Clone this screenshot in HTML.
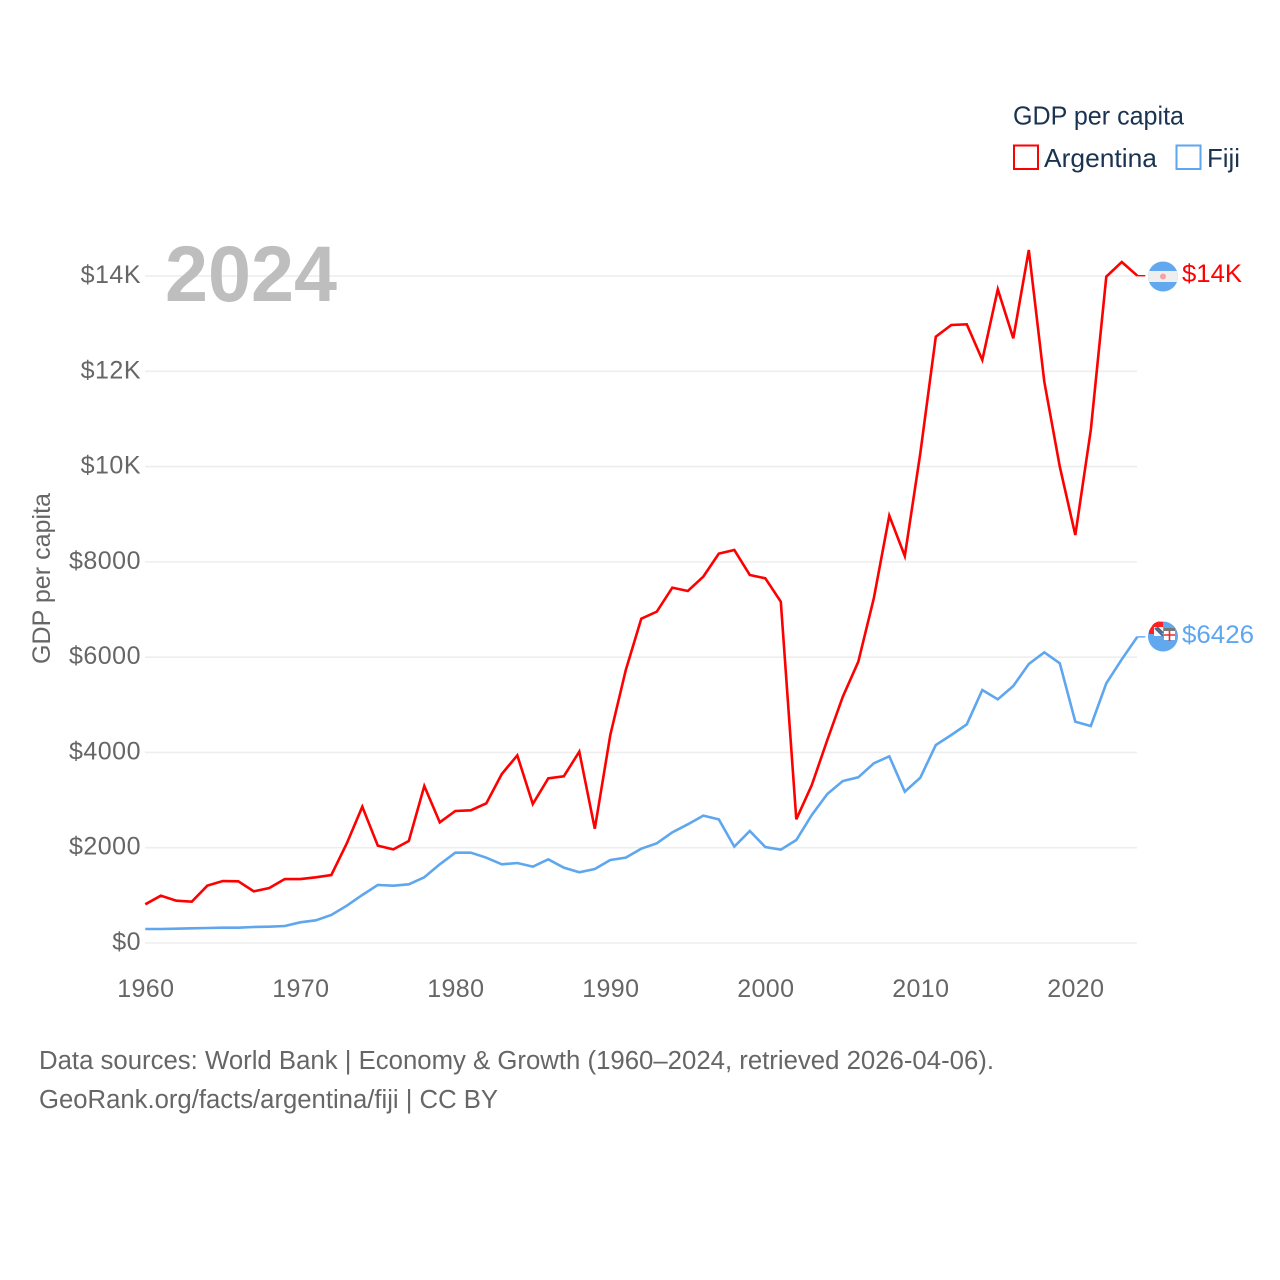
<!DOCTYPE html>
<html lang="en">
<head>
<meta charset="utf-8">
<title>GDP per capita: Argentina and Fiji</title>
<style>
html,body{margin:0;padding:0;background:#fff;width:1280px;height:1280px;overflow:hidden}
svg{display:block}
text{font-family:"Liberation Sans",Arial,sans-serif}
</style>
</head>
<body>
<svg id="chart" xmlns="http://www.w3.org/2000/svg" width="1280" height="1280" viewBox="0 0 1280 1280">
  <rect x="0" y="0" width="1280" height="1280" fill="#ffffff"/>
  <g id="grid"></g>
  <g id="yticks"></g>
  <g id="xticks"></g>
  <text x="165" y="301" font-size="79" font-weight="700" fill="#bebebe" textLength="172" lengthAdjust="spacingAndGlyphs">2024</text>
  <text transform="translate(50,664) rotate(-90)" font-size="25" fill="#666666" textLength="171" lengthAdjust="spacingAndGlyphs">GDP per capita</text>
  <g id="series"></g>

  <g>
    <clipPath id="clipAr"><circle cx="1163" cy="276.5" r="15"/></clipPath>
    <g clip-path="url(#clipAr)">
      <rect x="1148" y="261" width="30" height="31" fill="#62a8ee"/>
      <rect x="1148" y="271" width="30" height="11" fill="#eeeeee"/>
      <circle cx="1163" cy="276.5" r="3" fill="#f9a0a0"/>
    </g>
  </g>

  <g>
    <clipPath id="clipFj"><circle cx="1163" cy="636.5" r="15"/></clipPath>
    <circle cx="1160" cy="631" r="9.5" fill="#ff0000"/>
    <circle cx="1163" cy="636.5" r="15" fill="#62a8ee"/>
    <g clip-path="url(#clipFj)">
      <rect x="1149" y="622" width="14" height="12" fill="#ff2020"/>
      <rect x="1154" y="627" width="9" height="9" fill="#f4f6fa"/>
      <path d="M1155 628 L1163 636 M1157 627 L1163 633" stroke="#4a6a8a" stroke-width="2" fill="none"/>
      <rect x="1164" y="628" width="11" height="12" fill="#ffffff"/>
      <rect x="1164" y="628" width="11" height="3" fill="#777777"/>
      <path d="M1169.5 631 V641 M1164 635 H1175" stroke="#e03030" stroke-width="1.6" fill="none"/>
    </g>
  </g>

  <text id="labelA" x="1182" y="282" font-size="25" fill="#ff0000" textLength="60" lengthAdjust="spacingAndGlyphs"></text>
  <text id="labelF" x="1182" y="643" font-size="25" fill="#5ea6ee" textLength="72" lengthAdjust="spacingAndGlyphs"></text>

  <g>
    <text x="1013" y="124.5" font-size="26" fill="#1a3350" textLength="171" lengthAdjust="spacingAndGlyphs">GDP per capita</text>
    <rect x="1014" y="145.5" width="24" height="23.5" fill="none" stroke="#ff0000" stroke-width="2"/>
    <text x="1044" y="167" font-size="26" fill="#1a3350" textLength="113" lengthAdjust="spacingAndGlyphs">Argentina</text>
    <rect x="1176.5" y="145.5" width="24" height="23.5" fill="none" stroke="#5ea6ee" stroke-width="2"/>
    <text x="1207" y="167" font-size="26" fill="#1a3350" textLength="33" lengthAdjust="spacingAndGlyphs">Fiji</text>
  </g>

  <text x="39" y="1069" font-size="25.5" fill="#666666" textLength="955" lengthAdjust="spacingAndGlyphs">Data sources: World Bank | Economy &amp; Growth (1960–2024, retrieved 2026-04-06).</text>
  <text x="39" y="1108" font-size="25.5" fill="#666666" textLength="459" lengthAdjust="spacingAndGlyphs">GeoRank.org/facts/argentina/fiji | CC BY</text>
</svg>
<script>
const startYear = 1960;
const xTickYears = [1960, 1970, 1980, 1990, 2000, 2010, 2020];
const yTickValues = [0, 2000, 4000, 6000, 8000, 10000, 12000, 14000];
const yTickLabels = ['$0', '$2000', '$4000', '$6000', '$8000', '$10K', '$12K', '$14K'];
const argentinaValues = [812, 993, 888, 867, 1203, 1301, 1295, 1085, 1154, 1343,
  1343, 1379, 1427, 2092, 2861, 2043, 1966, 2141, 3295, 2533,
  2771, 2785, 2932, 3547, 3939, 2917, 3457, 3499, 4016, 2399,
  4366, 5731, 6808, 6955, 7459, 7389, 7690, 8173, 8250, 7725,
  7655, 7165, 2596, 3316, 4261, 5170, 5905, 7235, 8970, 8123,
  10279, 12727, 12972, 12986, 12238, 13721, 12693, 14546, 11782, 9998,
  8564, 10768, 13987, 14295, 14007];
const fijiValues = [294, 294, 300, 308, 315, 322, 322, 336, 343, 357,
  434, 476, 588, 783, 1008, 1218, 1203, 1232, 1379, 1652,
  1896, 1896, 1791, 1652, 1679, 1602, 1757, 1581, 1484, 1553,
  1742, 1791, 1980, 2092, 2323, 2491, 2673, 2596, 2022, 2351,
  2015, 1959, 2162, 2687, 3128, 3400, 3478, 3772, 3919, 3176,
  3470, 4156, 4366, 4590, 5311, 5115, 5395, 5856, 6102, 5871,
  4645, 4555, 5451, 5955, 6426];
const argentinaLabel = '$14K';
const fijiLabel = '$6426';

const NS = 'http://www.w3.org/2000/svg';
const xScale = function (year) { return 145.3 + (year - 1960) * 15.5; };
const yScale = function (value) { return 943 - value * 0.04764; };

const grid = document.getElementById('grid');
const yticks = document.getElementById('yticks');
const xticks = document.getElementById('xticks');
const series = document.getElementById('series');

yTickValues.forEach(function (value, i) {
  const line = document.createElementNS(NS, 'line');
  
  
  line.setAttribute('x1', 145);
  line.setAttribute('x2', 1137);
  line.setAttribute('y1', yScale(value));
  line.setAttribute('y2', yScale(value));
  line.setAttribute('stroke', '#eeeeee');
  line.setAttribute('stroke-width', 1.6);
  grid.appendChild(line);

  const label = document.createElementNS(NS, 'text');
  
  
  label.setAttribute('x', 141);
  label.setAttribute('y', yScale(value) + 7);
  label.setAttribute('text-anchor', 'end');
  label.setAttribute('font-size', 25);
  label.setAttribute('letter-spacing', 0.5);
  label.setAttribute('fill', '#666666');
  label.textContent = yTickLabels[i];
  yticks.appendChild(label);
});

xTickYears.forEach(function (year) {
  const label = document.createElementNS(NS, 'text');
  
  
  label.setAttribute('x', xScale(year) + 0.5);
  label.setAttribute('y', 997);
  label.setAttribute('text-anchor', 'middle');
  label.setAttribute('font-size', 25);
  label.setAttribute('letter-spacing', 0.4);
  label.setAttribute('fill', '#666666');
  label.textContent = String(year);
  xticks.appendChild(label);
});

function pathFor(values) {
  return values.map(function (value, i) {
    return (i ? 'L' : 'M') + xScale(startYear + i).toFixed(2) + ' ' + yScale(value).toFixed(2);
  }).join(' ');
}

const fijiLine = document.createElementNS(NS, 'path');


fijiLine.setAttribute('d', pathFor(fijiValues));
fijiLine.setAttribute('fill', 'none');
fijiLine.setAttribute('stroke', '#5ea6ee');
fijiLine.setAttribute('stroke-width', 2.6);
series.appendChild(fijiLine);

const argentinaLine = document.createElementNS(NS, 'path');


argentinaLine.setAttribute('d', pathFor(argentinaValues));
argentinaLine.setAttribute('fill', 'none');
argentinaLine.setAttribute('stroke', '#ff0000');
argentinaLine.setAttribute('stroke-width', 2.6);
series.appendChild(argentinaLine);

const lastYear = startYear + argentinaValues.length - 1;

const argentinaLeader = document.createElementNS(NS, 'line');


argentinaLeader.setAttribute('x1', xScale(lastYear));
argentinaLeader.setAttribute('x2', xScale(lastYear) + 8);
argentinaLeader.setAttribute('y1', yScale(argentinaValues[argentinaValues.length - 1]));
argentinaLeader.setAttribute('y2', yScale(argentinaValues[argentinaValues.length - 1]));
argentinaLeader.setAttribute('stroke', '#ff0000');
argentinaLeader.setAttribute('stroke-width', 1.4);
series.appendChild(argentinaLeader);

const fijiLeader = document.createElementNS(NS, 'line');


fijiLeader.setAttribute('x1', xScale(lastYear));
fijiLeader.setAttribute('x2', xScale(lastYear) + 8);
fijiLeader.setAttribute('y1', yScale(fijiValues[fijiValues.length - 1]));
fijiLeader.setAttribute('y2', yScale(fijiValues[fijiValues.length - 1]));
fijiLeader.setAttribute('stroke', '#5ea6ee');
fijiLeader.setAttribute('stroke-width', 1.4);
series.appendChild(fijiLeader);

document.getElementById('labelA').textContent = argentinaLabel;
document.getElementById('labelF').textContent = fijiLabel;
</script>
</body>
</html>
